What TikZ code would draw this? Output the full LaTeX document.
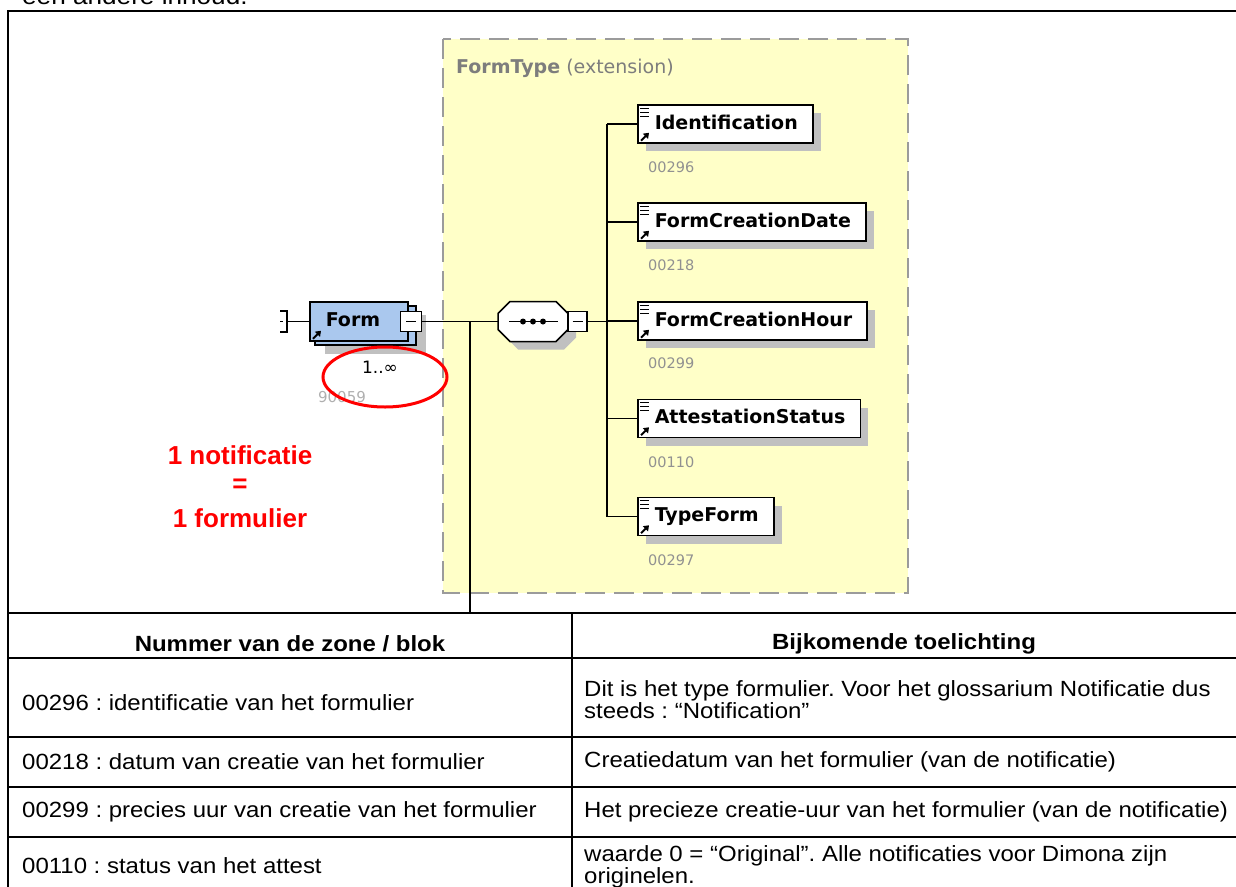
\documentclass[tikz,border=0pt]{standalone}
\usepackage{fontspec}
\setmainfont{Liberation Sans}
\newfontfamily\xsdfont{DejaVu Sans}
\newfontfamily\tabfont[FakeStretch=1.09]{Liberation Sans}
\usetikzlibrary{shadows,arrows.meta}
\definecolor{formblue}{RGB}{170,200,238}
\definecolor{extyellow}{RGB}{255,255,200}
\definecolor{dashgray}{RGB}{155,155,155}
\definecolor{shadowgray}{RGB}{192,192,192}
\definecolor{idgray}{RGB}{145,145,145}
\definecolor{lightid}{RGB}{175,175,175}
\definecolor{hdrgray}{RGB}{125,125,125}
\definecolor{redmark}{RGB}{255,0,0}
\frenchspacing
\tikzset{
  xsdbold/.style={font=\xsdfont\bfseries\fontsize{19}{22}\selectfont},
  elem/.style={xsdbold, draw=black, line width=1.5pt, fill=white, inner sep=0pt,
    minimum height=38pt, anchor=west, text height=14pt, text depth=4pt,
    drop shadow={shadow xshift=8pt, shadow yshift=-8pt, fill=shadowgray, opacity=1}},
  elemid/.style={font=\xsdfont\fontsize{14.5}{17}\selectfont, text=idgray, anchor=west, inner sep=0pt},
  conn/.style={line width=1.5pt, draw=black},
  minusbox/.style={draw=black, line width=1.5pt, fill=white, inner sep=0pt, minimum width=20pt, minimum height=20pt},
  tabline/.style={line width=2pt, draw=black},
  cell/.style={font=\tabfont\fontsize{22}{22}\selectfont, anchor=west, inner sep=0pt, align=left},
  hdr/.style={font=\tabfont\bfseries\fontsize{22}{22}\selectfont, inner sep=0pt},
  redtxt/.style={font=\bfseries\fontsize{26}{30}\selectfont, text=redmark, inner sep=0pt},
}
\newcommand{\elicons}[1]{%
  \draw[line width=1pt] ([shift={(3,4)}]#1.north west) -- ++(9,0)
    ([shift={(3,8)}]#1.north west) -- ++(9,0)
    ([shift={(3,12)}]#1.north west) -- ++(9,0);
  \draw[line width=2pt,-{Triangle[length=5pt,width=7pt]}] ([shift={(4,-3)}]#1.south west) -- ++(8,-8);
}
\newcommand{\minusmark}[1]{\draw[line width=1.5pt] ([xshift=-5pt]#1.center) -- ([xshift=5pt]#1.center);}
\begin{document}
\begin{tikzpicture}[x=1pt,y=-1pt]
\useasboundingbox (0,0) rectangle (1236,886);
% text of the previous paragraph, cut by the page edge
\node[font=\tabfont\fontsize{24}{26}\selectfont, anchor=base west, inner sep=0pt] (prev) at (22,4.5) {een andere inhoud.};
% table and frame
\draw[tabline, line width=2.5pt] (1240,11) -- (8,11) -- (8,890);
\foreach \yy in {613,658,737,787,837} \draw[tabline] (8,\yy) -- (1240,\yy);
\draw[tabline] (572,613) -- (572,890);
% extension box
\draw[draw=dashgray, line width=2pt, dash pattern=on 20pt off 9pt, fill=extyellow] (443,39) rectangle (908,593);
\node[anchor=west, inner sep=0pt, text=hdrgray, font=\xsdfont\fontsize{19}{22}\selectfont] (ftype) at (456,68) {\textbf{FormType} (extension)};
% Form element
\node[draw=black, line width=1.5pt, fill=formblue, inner sep=0pt, minimum width=101pt, minimum height=39pt,
  drop shadow={shadow xshift=10pt,shadow yshift=-9pt,fill=shadowgray,opacity=1}] (formback) at (365.5,325.5) {};
\node[xsdbold, draw=black, line width=1.5pt, fill=formblue, inner sep=0pt, minimum height=39pt, anchor=west,
  text height=14pt, text depth=4pt] (form) at (309,321.5) {\hspace*{16pt}Form\hspace*{28pt}};
\draw[line width=2pt,-{Triangle[length=5pt,width=7pt]}] ([shift={(4,-3)}]form.south west) -- ++(8,-8);
\node[minusbox, minimum width=21pt] (formminus) at (411,321.5) {};
\minusmark{formminus}
\node[font=\xsdfont\fontsize{17}{20}\selectfont, inner sep=0pt] (card) at (380,367) {1..∞};
\node[font=\xsdfont\fontsize{15}{18}\selectfont, text=lightid, inner sep=0pt] (formid) at (342,397) {90059};
% left connector
\coordinate (lbr) at (287,321.5);
\draw[conn] (280,311) -- (287,311) -- (287,332) -- (280,332);
\draw[conn] (280,321.5) -- (283,321.5);
\draw[conn] (lbr) -- (form.west);
% sequence compositor
\node[minimum width=70pt, minimum height=40pt, inner sep=0pt] (seq) at (533,321.5) {};
\fill[shadowgray] ([shift={(-15,-12)}]seq.center) -- ++(46,0) -- ++(12,12) -- ++(0,16) -- ++(-12,12) -- ++(-46,0) -- ++(-12,-12) -- ++(0,-16) -- cycle;
\draw[fill=white, line width=1.5pt] ([shift={(-23,-20)}]seq.center) -- ++(46,0) -- ++(12,12) -- ++(0,16) -- ++(-12,12) -- ++(-46,0) -- ++(-12,-12) -- ++(0,-16) -- cycle;
\draw[line width=1.5pt] ([xshift=-24pt]seq.center) -- ([xshift=25pt]seq.center);
\foreach \dx in {-10,0,10} \fill ([xshift=\dx pt]seq.center) circle (3pt);
\node[minusbox, minimum width=19pt] (seqminus) at (577.5,321.5) {};
\minusmark{seqminus}
% children
\node[elem] (ident) at (637,124) {\hspace*{17pt}Identification\hspace*{15pt}};
\node[elemid] (identid) at (648,167) {00296};
\node[elem] (fcdate) at (637,222) {\hspace*{17pt}FormCreationDate\hspace*{15pt}};
\node[elemid] (fcdateid) at (648,265) {00218};
\node[elem] (fchour) at (637,321) {\hspace*{17pt}FormCreationHour\hspace*{15pt}};
\node[elemid] (fchourid) at (648,363) {00299};
\node[elem] (astatus) at (637,418.5) {\hspace*{17pt}AttestationStatus\hspace*{15pt}};
\node[elemid] (astatusid) at (648,462) {00110};
\node[elem] (tform) at (637,516.5) {\hspace*{17pt}TypeForm\hspace*{15pt}};
\node[elemid] (tformid) at (648,560) {00297};
\foreach \n in {ident,fcdate,fchour,astatus,tform} {\elicons{\n}}
% connectors
\coordinate (branch) at (470,321.5);
\coordinate (tabtop) at (470,613);
\coordinate (bus) at (607,321.5);
\coordinate (bustop) at (607,124);
\coordinate (busbot) at (607,516.5);
\draw[conn] (formminus.east) -- (seq.west);
\draw[conn] (branch) -- (tabtop);
\draw[conn] (seqminus.east) -- (bus);
\draw[conn] (bustop) -- (busbot);
\foreach \n in {ident,fcdate,fchour,astatus,tform} {\draw[conn] (\n.west -| bus) -- (\n.west);}
% red annotation
\draw[draw=redmark, line width=3pt] (385,377) ellipse [x radius=62pt, y radius=30pt];
\node[redtxt] (rt1) at (240,455) {1 notificatie};
\node[redtxt] (rt2) at (240,486) {=};
\node[redtxt] (rt3) at (240,518) {1 formulier};
% table texts
\node[hdr] (h1) at (290,644) {Nummer van de zone / blok};
\node[hdr] (h2) at (904,644) {Bijkomende toelichting};
\node[cell] (l1) at (22,703) {00296 : identificatie van het formulier};
\node[cell] (r1) at (584,700) {Dit is het type formulier. Voor het glossarium Notificatie dus\\steeds : “Notification”};
\node[cell] (l2) at (22,762) {00218 : datum van creatie van het formulier};
\node[cell] (r2) at (584,762) {Creatiedatum van het formulier (van de notificatie)};
\node[cell] (l3) at (22,812) {00299 : precies uur van creatie van het formulier};
\node[cell] (r3) at (584,812) {Het precieze creatie-uur van het formulier (van de notificatie)};
\node[cell] (l4) at (22,866) {00110 : status van het attest};
\node[cell] (r4) at (584,867) {waarde 0 = “Original”. Alle notificaties voor Dimona zijn\\originelen.};
\end{tikzpicture}
\end{document}
